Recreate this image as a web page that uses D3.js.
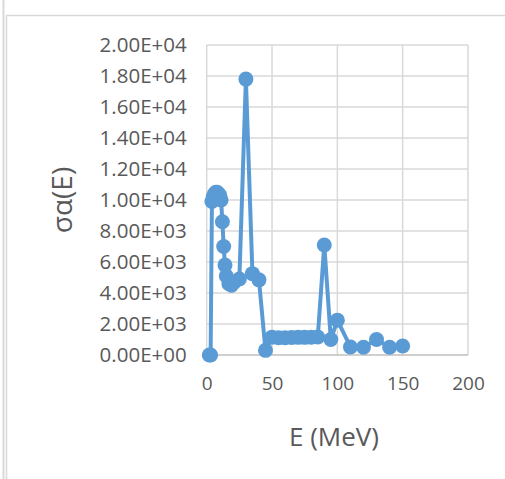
<!DOCTYPE html>
<html>
<head>
<meta charset="utf-8">
<script src="https://cdn.jsdelivr.net/npm/d3@7"></script>
<style>
  html, body { margin: 0; padding: 0; background: #fff; }
  svg { display: block; }
  text { font-family: "Open Sans", "Noto Sans", sans-serif; fill: #595959; }
</style>
</head>
<body>
<svg id="chart" width="505" height="479"></svg>
<script>
// Energy (MeV) and cross section values
const energy = [2, 3, 4, 5, 6, 7, 8, 9, 10, 11, 12, 13, 14, 15, 17, 19, 21, 25, 30, 35, 40, 45,
                50, 55, 60, 65, 70, 75, 80, 85, 90, 95, 100, 110, 120, 130, 140, 150];
const sigma  = [0, 0, 9900, 10200, 10400, 10500, 10500, 10400, 10300, 10000, 8600, 7000, 5800, 5100,
                4600, 4500, 4700, 4900, 17800, 5250, 4850, 300,
                1150, 1120, 1120, 1130, 1140, 1140, 1150, 1160, 7100, 1000, 2250, 520, 500, 1000, 500, 580];
const xTicks = [0, 50, 100, 150, 200];
const yTicks = [0, 2000, 4000, 6000, 8000, 10000, 12000, 14000, 16000, 18000, 20000];

const svg = d3.select("#chart");

// outer frame lines
svg.append("line").attr("x1", 3.5).attr("x2", 3.5).attr("y1", 0).attr("y2", 479)
  .attr("stroke", "#d9d9d9").attr("stroke-width", 2);
svg.append("line").attr("x1", 6.5).attr("x2", 6.5).attr("y1", 15.5).attr("y2", 479)
  .attr("stroke", "#d9d9d9").attr("stroke-width", 1.5);
svg.append("line").attr("x1", 6).attr("x2", 505).attr("y1", 15.5).attr("y2", 15.5)
  .attr("stroke", "#d9d9d9").attr("stroke-width", 1.5);

const x = d3.scaleLinear().domain([0, 200]).range([206.7, 468]);
const y = d3.scaleLinear().domain([0, 20000]).range([355, 45]);

// gridlines
const grid = svg.append("g");
grid.selectAll(".vg").data(xTicks).join("line")
  .attr("x1", d => x(d)).attr("x2", d => x(d))
  .attr("y1", y(20000)).attr("y2", y(0))
  .attr("stroke", "#d9d9d9").attr("stroke-width", 1.5);
grid.selectAll(".hg").data(yTicks).join("line")
  .attr("x1", x(0)).attr("x2", x(200))
  .attr("y1", d => y(d)).attr("y2", d => y(d))
  .attr("stroke", d => d === 0 ? "#bfbfbf" : "#d9d9d9").attr("stroke-width", 1.5);

// y axis
const yAxis = d3.axisLeft(y).tickValues(yTicks).tickSize(0).tickPadding(20)
  .tickFormat(d => {
    const e = d === 0 ? 0 : Math.floor(Math.log10(d));
    const m = d / Math.pow(10, e);
    return m.toFixed(2) + "E+" + String(e).padStart(2, "0");
  });
const gy = svg.append("g").attr("transform", `translate(${x(0)},0)`).call(yAxis);
gy.select(".domain").remove();
gy.selectAll("text").style("font-size", "20.5px").attr("fill", "#595959");

// x axis
const xAxis = d3.axisBottom(x).tickValues(xTicks).tickSize(0).tickPadding(22);
const gx = svg.append("g").attr("transform", `translate(0,${y(0)})`).call(xAxis);
gx.select(".domain").remove();
gx.selectAll("text").style("font-size", "19px").attr("fill", "#595959");

// series
const pts = energy.map((e, i) => [e, sigma[i]]);
const line = d3.line().x(d => x(d[0])).y(d => y(d[1]));
svg.append("path").datum(pts).attr("d", line)
  .attr("fill", "none").attr("stroke", "#5b9bd5").attr("stroke-width", 4)
  .attr("stroke-linejoin", "round");
svg.append("g").selectAll("circle").data(pts).join("circle")
  .attr("cx", d => x(d[0])).attr("cy", d => y(d[1])).attr("r", 7.5)
  .attr("fill", "#5b9bd5");

// axis titles
svg.append("text").attr("x", 334).attr("y", 446).attr("text-anchor", "middle")
  .style("font-size", "26px").text("E (MeV)");
svg.append("text").attr("transform", "translate(72,200) rotate(-90)")
  .attr("text-anchor", "middle").style("font-size", "28px").text("σα(E)");
</script>
</body>
</html>
